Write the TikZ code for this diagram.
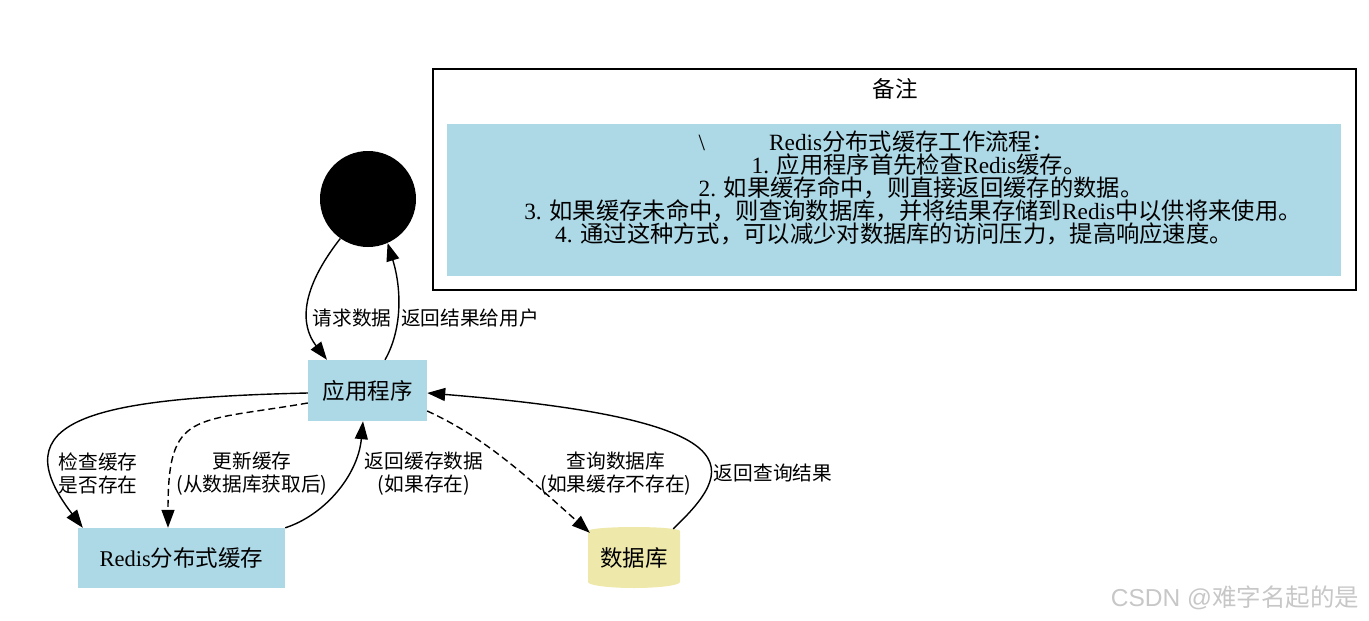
\documentclass[tikz,border=0pt]{standalone}
\usepackage{fontspec}
\setmainfont{Noto Sans CJK SC}
\newfontfamily\lat{Liberation Serif}
\newfontfamily\wsans{Liberation Sans}
\usetikzlibrary{arrows.meta}
\definecolor{lblue}{HTML}{ADD8E6}
\definecolor{pgold}{HTML}{EEE8AA}
\tikzset{
  box/.style={fill=lblue, inner sep=0pt, font=\fontsize{22.5}{24}\selectfont},
  elabel/.style={align=center, inner sep=0pt, font=\fontsize{19.7}{23}\selectfont},
  notetext/.style={align=center, inner sep=0pt, font=\fontsize{23.3}{23}\selectfont},
  conn/.style={line width=1.4pt, -{Triangle[length=18pt,width=13pt]}},
  dconn/.style={conn, dash pattern=on 7pt off 4pt},
}
\begin{document}
\begin{tikzpicture}[x=1pt, y=-1pt]
\useasboundingbox (0,0) rectangle (1369,621);
% note
\node[draw, line width=1.4pt, minimum width=923pt, minimum height=221pt, inner sep=0pt] (note) at (894.5,179.5) {};
\node[fill=lblue, minimum width=894pt, minimum height=152pt, inner sep=0pt] (notebody) at (894,200) {};
\node[inner sep=0pt, font=\fontsize{22.5}{24}\selectfont] (notetitle) at (895,89) {备注};
\node[notetext] (ntext) at (900,188) {%
{\lat\textbackslash}\hspace{64pt}{\lat Redis}分布式缓存工作流程：\rule{46pt}{0pt}\\
\rule{38pt}{0pt}{\lat 1. }应用程序首先检查{\lat Redis}缓存。\\
\rule{42pt}{0pt}{\lat 2. }如果缓存命中，则直接返回缓存的数据。\\
\rule{26pt}{0pt}{\lat 3. }如果缓存未命中，则查询数据库，并将结果存储到{\lat Redis}中以供将来使用。\\
{\lat 4. }通过这种方式，可以减少对数据库的访问压力，提高响应速度。\rule{12pt}{0pt}};
% nodes
\node[circle, fill=black, minimum size=96pt, inner sep=0pt] (start) at (368,199) {};
\node[box, minimum width=119pt, minimum height=61pt] (app) at (367.5,390.5) {应用程序};
\node[box, minimum width=207pt, minimum height=60pt] (redis) at (181.5,558) {{\lat Redis}分布式缓存};
\fill[pgold] (588,582) arc[start angle=180, end angle=0, x radius=46, y radius=6] -- (680,531) arc[start angle=360, end angle=180, x radius=46, y radius=4] -- cycle;
\node[inner sep=0pt, minimum width=92pt, minimum height=62pt, font=\fontsize{22.5}{24}\selectfont] (db) at (634,558) {数据库};
% edges
\draw[conn] (start.235) .. controls (300,290) and (300,325) .. ([xshift=-40.5pt]app.north);
\draw[conn] ([xshift=17.5pt]app.north) .. controls (402,330) and (402,290) .. (start.294);
\draw[conn] ([yshift=-2.5pt]app.west) .. controls (90,398) and (0,420) .. ([xshift=5pt]redis.north west);
\draw[dconn] ([yshift=-12.5pt]app.west) .. controls (192,423) and (168,410) .. ([xshift=-13.5pt]redis.north);
\draw[conn] (redis.north east) .. controls (325,515) and (358,475) .. ([xshift=-4.5pt]app.south);
\draw[dconn] ([yshift=-20.5pt]app.east) .. controls (480,435) and (520,470) .. ([xshift=2pt,yshift=-6pt]db.north west);
\draw[conn] ([xshift=-7pt,yshift=-2pt]db.north east) .. controls (735,470) and (760,420) .. ([yshift=-2.5pt]app.east);
% labels
\node[elabel] (l1) at (352,318) {请求数据};
\node[elabel] (l2) at (470,318) {返回结果给用户};
\node[elabel] (l3) at (98,473.5) {检查缓存\\是否存在};
\node[elabel] (l4) at (252,473.5) {更新缓存\\(从数据库获取后)};
\node[elabel] (l5) at (424,473.5) {返回缓存数据\\(如果存在)};
\node[elabel] (l6) at (616,473.5) {查询数据库\\(如果缓存不存在)};
\node[elabel] (l7) at (773,473) {返回查询结果};
% watermark
\node[inner sep=0pt, text=black!22, font=\fontsize{24.5}{25}\selectfont] (wm) at (1235,598) {{\wsans CSDN @}难字名起的是};
\end{tikzpicture}
\end{document}
